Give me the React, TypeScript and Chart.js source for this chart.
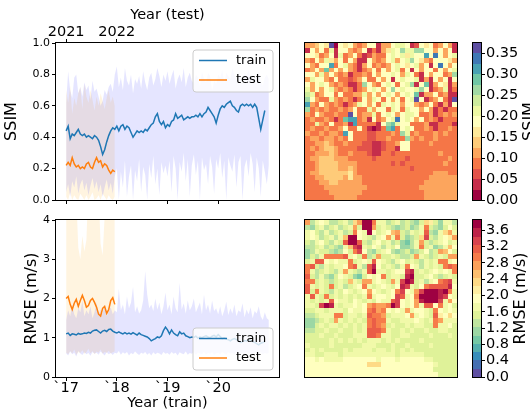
import React, { useEffect, useRef } from "react";
import { Chart, registerables } from "chart.js";

Chart.register(...registerables);
Chart.defaults.font.family = "'DejaVu Sans', sans-serif";
Chart.defaults.color = "#000";

// ---------------- data ----------------
const START_YEAR = 2017;
const STEP_YEARS = 0.04;
const X_MIN = 2016.8;
const X_MAX = 2021.2;

const trainYearTicks = [2017, 2018, 2019, 2020];
const trainYearLabels = ["`17", "`18", "`19", "`20"];
const testYearTicks = [2017, 2018];
const testYearLabels = ["2021", "2022"];
const ssimTicks = [0, 0.2, 0.4, 0.6, 0.8, 1.0];
const rmseTicks = [0, 1, 2, 3, 4];
const ssimCbTicks = [0, 0.05, 0.1, 0.15, 0.2, 0.25, 0.3, 0.35];
const rmseCbTicks = [0, 0.4, 0.8, 1.2, 1.6, 2.0, 2.4, 2.8, 3.2, 3.6];
const seriesLabels = ["train", "test"];

const ssimTrain = [
  0.44, 0.47, 0.39, 0.42, 0.41, 0.43, 0.45, 0.42, 0.41, 0.42,
  0.40, 0.41, 0.40, 0.39, 0.41, 0.40, 0.38, 0.34, 0.29, 0.32,
  0.37, 0.41, 0.44, 0.46, 0.45, 0.47, 0.44, 0.47, 0.48, 0.45,
  0.47, 0.46, 0.43, 0.40, 0.42, 0.44, 0.43, 0.44, 0.43, 0.45,
  0.44, 0.46, 0.48, 0.49, 0.53, 0.55, 0.50, 0.48, 0.50, 0.46,
  0.48, 0.47, 0.50, 0.51, 0.55, 0.52, 0.53, 0.54, 0.51, 0.52,
  0.53, 0.52, 0.53, 0.53, 0.54, 0.53, 0.55, 0.53, 0.55, 0.56,
  0.59, 0.57, 0.55, 0.53, 0.49, 0.54, 0.58, 0.60, 0.59, 0.61,
  0.62, 0.63, 0.60, 0.59, 0.57, 0.56, 0.60, 0.61, 0.60, 0.61,
  0.60, 0.61, 0.59, 0.61, 0.59, 0.52, 0.45, 0.51, 0.57,
];
const ssimTest = [
  0.22, 0.24, 0.22, 0.27, 0.23, 0.21, 0.22, 0.20, 0.21, 0.20,
  0.23, 0.24, 0.21, 0.20, 0.24, 0.27, 0.24, 0.25, 0.21, 0.23,
  0.22, 0.19, 0.17, 0.19, 0.18,
];
const ssimTrainHi = [
  0.62, 0.82, 0.70, 0.65, 0.78, 0.80, 0.68, 0.72, 0.66, 0.75, 0.70, 0.73, 0.64, 0.76, 0.69, 0.71, 0.66, 0.60, 0.63, 0.70, 0.67, 0.72, 0.74, 0.69, 0.80,
  0.85, 0.72, 0.78, 0.70, 0.84, 0.76, 0.73, 0.80, 0.68, 0.77, 0.74, 0.79, 0.71, 0.82, 0.75, 0.70, 0.78, 0.81, 0.73, 0.77, 0.84, 0.79, 0.72, 0.80, 0.76,
  0.82, 0.74, 0.79, 0.83, 0.71, 0.77, 0.80, 0.75, 0.84, 0.72, 0.78, 0.81, 0.76, 0.74, 0.80, 0.78, 0.73, 0.82, 0.77, 0.75, 0.81, 0.79, 0.70, 0.76, 0.74,
  0.80, 0.78, 0.83, 0.75, 0.81, 0.79, 0.77, 0.84, 0.80, 0.76, 0.82, 0.78, 0.74, 0.81, 0.79, 0.83, 0.77, 0.80, 0.75, 0.79, 0.82, 0.76, 0.73, 0.78, 0.80, 0.77,
];
const ssimTrainLo = [
  0.05, 0.10, 0.02, 0.12, 0.08, 0.15, 0.04, 0.10, 0.13, 0.06, 0.11, 0.03, 0.09, 0.14, 0.07, 0.12, 0.05, 0.10, 0.02, 0.08, 0.13, 0.06, 0.11, 0.04, 0.15,
  0.20, 0.00, 0.18, 0.08, 0.25, 0.02, 0.15, 0.22, 0.00, 0.19, 0.12, 0.26, 0.05, 0.21, 0.16, 0.00, 0.23, 0.14, 0.28, 0.10, 0.20, 0.03, 0.24, 0.17, 0.22,
  0.15, 0.25, 0.05, 0.28, 0.20, 0.00, 0.24, 0.18, 0.30, 0.12, 0.26, 0.02, 0.22, 0.29, 0.16, 0.25, 0.00, 0.27, 0.19, 0.23, 0.10, 0.28, 0.21, 0.04, 0.26,
  0.20, 0.30, 0.14, 0.25, 0.00, 0.27, 0.22, 0.18, 0.29, 0.08, 0.24, 0.28, 0.00, 0.21, 0.26, 0.15, 0.30, 0.23, 0.05, 0.27, 0.20, 0.02, 0.25, 0.18, 0.10, 0.22,
];
const ssimTestHi = [
  0.70, 0.62, 0.73, 0.55, 0.65, 0.60, 0.68, 0.72, 0.58, 0.74, 0.66, 0.62, 0.70,
  0.64, 0.57, 0.66, 0.60, 0.68, 0.63, 0.58, 0.65, 0.70, 0.62, 0.66, 0.60,
];
const ssimTestLo = [
  0.02, 0.00, 0.05, 0.00, 0.03, 0.01, 0.00, 0.04, 0.02, 0.00, 0.03, 0.00, 0.02,
  0.05, 0.00, 0.01, 0.03, 0.00, 0.04, 0.02, 0.00, 0.03, 0.01, 0.00, 0.02,
];

const rmseTrain = [
  1.10, 1.12, 1.06, 1.10, 1.09, 1.07, 1.11, 1.09, 1.10, 1.12,
  1.11, 1.14, 1.12, 1.17, 1.19, 1.20, 1.16, 1.12, 1.17, 1.19,
  1.16, 1.21, 1.22, 1.17, 1.14, 1.12, 1.15, 1.12, 1.10, 1.13,
  1.10, 1.12, 1.09, 1.13, 1.10, 1.07, 1.12, 1.08, 1.06, 1.04,
  1.02, 0.98, 0.92, 0.95, 0.98, 1.02, 1.00, 1.05, 1.18, 1.27,
  1.20, 1.10, 1.20, 1.12, 1.08, 1.05, 1.15, 1.10, 1.12, 1.05,
  1.03, 1.00, 1.02, 1.01, 1.04, 0.99, 1.02, 1.00, 1.03, 1.05,
  1.02, 1.00, 1.04, 1.06, 1.02, 1.08, 1.03, 0.98, 1.00, 0.97,
  0.95, 0.92, 0.96, 0.98, 0.95, 0.92, 0.88, 0.90, 0.93, 0.92,
  0.95, 0.93, 0.90, 0.88, 0.85, 0.82, 0.86, 0.88, 0.90,
];
const rmseTest = [
  2.00, 2.05, 1.85, 1.72, 1.88, 1.98, 1.80, 1.95, 2.08, 1.95,
  1.78, 1.82, 1.95, 2.00, 1.90, 1.78, 1.60, 1.55, 1.75, 1.80,
  1.62, 1.72, 1.95, 2.02, 1.85,
];
const rmseTrainHi = [
  1.45, 1.70, 1.55, 1.85, 1.60, 1.50, 1.75, 1.65, 1.95, 1.55, 1.70, 1.60, 1.80, 1.50, 1.65, 1.90, 1.58, 1.72, 1.62, 1.85, 1.55, 1.68, 1.78, 1.60, 1.70,
  1.65, 2.25, 1.70, 1.85, 1.60, 2.05, 1.75, 1.90, 2.30, 1.65, 1.80, 1.62, 1.70, 1.95, 2.70, 2.10, 1.75, 1.85, 1.68, 2.00, 1.72, 1.90, 1.60, 1.80, 2.15,
  1.70, 1.85, 1.60, 2.05, 1.75, 1.65, 2.40, 1.72, 1.88, 1.62, 1.95, 1.70, 1.80, 2.00, 1.65, 1.78, 1.90, 1.60, 2.10, 1.70, 1.85, 1.62, 1.95, 1.68, 1.75,
  1.60, 1.80, 1.55, 1.70, 1.92, 1.58, 1.75, 1.62, 1.85, 1.55, 1.70, 1.65, 1.88, 1.52, 1.72, 1.60, 1.78, 1.50, 1.68, 1.62, 1.80, 1.55, 1.45, 1.65, 1.50, 1.45,
];
const rmseTrainLo = [
  0.60, 0.55, 0.65, 0.58, 0.62, 0.52, 0.66, 0.60, 0.56, 0.63, 0.58, 0.61, 0.54, 0.64, 0.59, 0.62, 0.57, 0.65, 0.60, 0.55, 0.63, 0.58, 0.61, 0.56, 0.62,
  0.60, 0.66, 0.57, 0.63, 0.59, 0.64, 0.55, 0.61, 0.58, 0.65, 0.60, 0.56, 0.62, 0.59, 0.64, 0.57, 0.61, 0.55, 0.63, 0.58, 0.62, 0.60, 0.56, 0.64, 0.59,
  0.61, 0.57, 0.64, 0.59, 0.62, 0.55, 0.63, 0.60, 0.58, 0.65, 0.57, 0.61, 0.59, 0.63, 0.56, 0.62, 0.60, 0.58, 0.64, 0.57, 0.61, 0.59, 0.63, 0.56, 0.60,
  0.62, 0.58, 0.64, 0.60, 0.57, 0.63, 0.59, 0.61, 0.56, 0.64, 0.60, 0.58, 0.62, 0.57, 0.63, 0.59, 0.61, 0.55, 0.62, 0.60, 0.58, 0.63, 0.57, 0.61, 0.59, 0.62,
];
const rmseTestHi = [
  4.8, 5.0, 4.3, 4.5, 4.2, 4.6, 3.3, 3.0, 3.6, 3.2, 3.5, 4.9, 4.4,
  5.0, 4.5, 4.8, 4.7, 3.4, 3.1, 4.1, 5.0, 4.8, 4.3, 5.0, 4.6,
];
const rmseTestLo = [
  0.62, 0.58, 0.66, 0.60, 0.70, 0.57, 0.64, 0.61, 0.68, 0.59, 0.63, 0.72, 0.60,
  0.66, 0.58, 0.65, 0.62, 0.70, 0.59, 0.64, 0.61, 0.67, 0.60, 0.63, 0.65,
];

// heat-map cells: each character is a colour-band index (base 36)
const ssimVmax = 0.375;
const ssimBands = 15;
const ssimMapRows = [
  "44576e07 67434771 44788712 76734741",
  "17473817 74347131 4687a88a a7747471",
  "77634718 34731243 37878687 7c7d7478",
  "43748647 37411743 478478a7 64377764",
  "74377c37 84314734 34787678 4717d747",
  "3474b474 74313473 74783717 47737478",
  "77484743 41334374 77874873 1747734a",
  "48774373 32347337 47178778 14174717",
  "74787434 3113a743 787378a1 7b147614",
  "84747843 43134787 47a78778 a7134813",
  "98347737 33448474 7874787b 14473411",
  "a7433843 43137487 3747378e 7134731e",
  "c4374343 13487473 87874774 34731417",
  "a3434334 34733847 73873877 47413133",
  "43743343 3e734483 78747887 33413434",
  "34334313 bcc34173 478d7874 73431333",
  "33843733 41c33331 7ab87733 34113331",
  "34334334 73373101 3bc37873 34313343",
  "43343443 c7333223 3343a834 33343433",
  "34434434 37333223 34333a43 43343333",
  "33445433 43332211 23347733 33433333",
  "34345543 33322211 23317733 33333333",
  "33444543 34333211 33233333 33334333",
  "34455544 43333323 33333233 33333343",
  "33455554 44433333 33232333 33333433",
  "33455554 45433333 33333323 33333333",
  "34455555 56433333 33333333 33344433",
  "33445555 46443333 33333333 33444444",
  "33344554 44443333 33333333 34444444",
  "33334444 44444333 33333333 44444444",
  "33333444 44443333 33333333 34444444",
  "33333344 44433333 33333333 34444444",
];

const rmseVmax = 3.85;
const rmseBands = 19;
const rmseMapRows = [
  "d6898667 86bdiie8 86786765 7ba75886",
  "65786786 78d7iid7 87656756 8e765797",
  "89768678 67e98i97 89cd7687 8f658bd8",
  "89867868 cii98768 9d8e7567 bg7689ad",
  "76897687 fiif7689 78675468 d7678978",
  "66786765 8cgh8798 68795568 e78568c9",
  "56877656 97eg9657 89656756 7967dc97",
  "5768eeee f897e67d 7787667d 876787dd",
  "78ff9898 8e7898f9 87689787 6878ee89",
  "ef768788 9ef86fh9 78768e98 68787efe",
  "e8678768 d8768fi8 87899gh7 8789898e",
  "f7686579 87547989 e7887hi7 78976787",
  "ee787678 7c87dd89 87d8gih7 8689efg8",
  "f8787e78 6789e878 9879hg87 9effffh9",
  "f7e87687 98789d98 789eg98d giiihie8",
  "8f87e787 87878e89 989gf89e iiiihg98",
  "87878f98 87987879 88fg989d hiiig8d9",
  "887gih87 88989ded deig989d 8ff9e897",
  "77887888 79889efd e9898d89 987e9898",
  "667888ee 78878fee d78889d8 987fa9b9",
  "556787d8 78787efe e8778889 878ed888",
  "55787887 87878efe d7877878 877e8897",
  "66778778 77878fff e8778787 78778877",
  "77787787 77888ffe 88778877 77877787",
  "77777878 78787888 78787777 87777777",
  "87777877 77778887 77877877 77877777",
  "78787777 87888878 87878787 77777777",
  "88778887 88888888 88878888 87777777",
  "99898888 99999998 99989999 98877777",
  "99999999 99999bbb 99999999 99987777",
  "99999999 99999999 99999999 99977777",
  "99999999 99999999 99999999 99997777",
];

// ---------------- helpers ----------------
const SPECTRAL = [
  "#9e0142", "#d53e4f", "#f46d43", "#fdae61", "#fee08b", "#ffffbf",
  "#e6f598", "#abdda4", "#66c2a5", "#3288bd", "#5e4fa2",
];
function hexToRgb(h: string) {
  return [1, 3, 5].map((i) => parseInt(h.slice(i, i + 2), 16));
}
function spectral(t: number) {
  const tt = Math.max(0, Math.min(1, t));
  const p = tt * (SPECTRAL.length - 1);
  const i = Math.min(SPECTRAL.length - 2, Math.floor(p));
  const f = p - i;
  const a = hexToRgb(SPECTRAL[i]);
  const b = hexToRgb(SPECTRAL[i + 1]);
  const c = a.map((v, k) => Math.round(v + (b[k] - v) * f));
  return `rgb(${c[0]},${c[1]},${c[2]})`;
}
function bandColor(band: number, n: number, reversed: boolean) {
  const t = band / (n - 1);
  return spectral(reversed ? 1 - t : t);
}
function parseGrid(rows: string[], vmax: number, n: number) {
  return rows.map((r) =>
    r.replace(/ /g, "").split("").map((ch) => ((parseInt(ch, 36) + 0.5) * vmax) / n)
  );
}
const pts = (arr: number[]) => arr.map((y, i) => ({ x: START_YEAR + i * STEP_YEARS, y }));
const fixedTicks = (vals: number[]) => (s: any) => {
  s.ticks = vals.map((v) => ({ value: v }));
};

const framePlugin = {
  id: "mplFrame",
  afterDraw(chart: any) {
    const { ctx, chartArea: a } = chart;
    ctx.save();
    ctx.strokeStyle = "#000";
    ctx.lineWidth = 1;
    const l = Math.round(a.left) - 0.5;
    const t = Math.round(a.top) - 0.5;
    const r = Math.round(a.right) + 0.5;
    const b = Math.round(a.bottom) + 0.5;
    ctx.strokeRect(l, t, r - l, b - t);
    ctx.restore();
  },
};

function makeLegendPlugin(corner: "top" | "bottom", colors: string[]) {
  return {
    id: "mplLegend",
    afterDatasetsDraw(chart: any) {
      const { ctx, chartArea: a } = chart;
      const w = 80;
      const h = 42;
      const x = a.right - 6 - w;
      const y = corner === "top" ? a.top + 7 : a.bottom - 7 - h;
      ctx.save();
      ctx.beginPath();
      const rad = 3;
      ctx.moveTo(x + rad, y);
      ctx.lineTo(x + w - rad, y);
      ctx.quadraticCurveTo(x + w, y, x + w, y + rad);
      ctx.lineTo(x + w, y + h - rad);
      ctx.quadraticCurveTo(x + w, y + h, x + w - rad, y + h);
      ctx.lineTo(x + rad, y + h);
      ctx.quadraticCurveTo(x, y + h, x, y + h - rad);
      ctx.lineTo(x, y + rad);
      ctx.quadraticCurveTo(x, y, x + rad, y);
      ctx.closePath();
      ctx.fillStyle = "rgba(255,255,255,0.8)";
      ctx.fill();
      ctx.strokeStyle = "#cccccc";
      ctx.lineWidth = 1;
      ctx.stroke();
      ctx.font = "13px 'DejaVu Sans'";
      ctx.textBaseline = "middle";
      ctx.textAlign = "left";
      seriesLabels.forEach((lab, k) => {
        const cy = y + 10.5 + k * 19.5;
        ctx.beginPath();
        ctx.strokeStyle = colors[k];
        ctx.lineWidth = 1.5;
        ctx.moveTo(x + 6, cy);
        ctx.lineTo(x + 34, cy);
        ctx.stroke();
        ctx.fillStyle = "#000";
        ctx.fillText(lab, x + 43, cy);
      });
      ctx.restore();
    },
  };
}

const TRAIN_COLOR = "#1f77b4";
const TEST_COLOR = "#ff7f0e";

function lineConfig(p: any) {
  const band = (data: number[], fill: any, bg: string) => ({
    data: pts(data),
    borderWidth: 0,
    borderColor: "rgba(0,0,0,0)",
    pointRadius: 0,
    backgroundColor: bg,
    fill,
  });
  const gridOpts = {
    drawOnChartArea: false,
    drawTicks: true,
    tickLength: 4,
    tickColor: "#000",
    tickWidth: 1,
  };
  const scales: any = {
    y: {
      type: "linear",
      position: "left",
      min: p.yMin,
      max: p.yMax,
      afterBuildTicks: fixedTicks(p.yTicks),
      ticks: { callback: p.yFmt, font: { size: 11 }, padding: 2, color: "#000" },
      grid: gridOpts,
      border: { display: false },
      title: {
        display: true,
        text: p.yTitle,
        font: { size: 16 },
        color: "#000",
        padding: { top: p.yTitlePad, bottom: 0 },
      },
      afterFit: (s: any) => {
        s.width = 56;
      },
    },
    x: {
      type: "linear",
      position: "bottom",
      min: X_MIN,
      max: X_MAX,
      afterBuildTicks: fixedTicks(trainYearTicks),
      ticks: {
        callback: (_v: any, i: number) => (p.showBottomLabels ? trainYearLabels[i] : ""),
        font: { size: 14.5 },
        padding: -1,
        maxRotation: 0,
        autoSkip: false,
        color: "#000",
      },
      grid: gridOpts,
      border: { display: false },
      title: {
        display: p.showBottomLabels,
        text: "Year (train)",
        font: { size: 14.5 },
        color: "#000",
        padding: { top: 0, bottom: 1 },
      },
      afterFit: (s: any) => {
        s.height = p.bottomH;
      },
    },
  };
  if (p.topAxis) {
    scales.x2 = {
      type: "linear",
      position: "top",
      min: X_MIN,
      max: X_MAX,
      afterBuildTicks: fixedTicks(testYearTicks),
      ticks: {
        callback: (_v: any, i: number) => testYearLabels[i],
        font: { size: 14.5 },
        padding: -2,
        maxRotation: 0,
        autoSkip: false,
        color: "#000",
      },
      grid: gridOpts,
      border: { display: false },
      title: {
        display: true,
        text: "Year (test)",
        font: { size: 14.5 },
        color: "#000",
        padding: { top: 7, bottom: 0 },
      },
      afterFit: (s: any) => {
        s.height = 43;
      },
    };
  }
  return {
    type: "line",
    data: {
      datasets: [
        { label: "train", data: pts(p.train), borderColor: TRAIN_COLOR, borderWidth: 1.5, pointRadius: 0, fill: false },
        { label: "test", data: pts(p.test), borderColor: TEST_COLOR, borderWidth: 1.5, pointRadius: 0, fill: false },
        band(p.trainHi, "+1", "rgba(0,0,255,0.1)"),
        band(p.trainLo, false, "rgba(0,0,0,0)"),
        band(p.testHi, "+1", "rgba(255,165,0,0.12)"),
        band(p.testLo, false, "rgba(0,0,0,0)"),
      ],
    },
    options: {
      responsive: false,
      animation: false,
      events: [],
      layout: { padding: p.padding },
      plugins: { legend: { display: false }, tooltip: { enabled: false } },
      elements: { line: { tension: 0 } },
      scales,
    },
    plugins: [makeLegendPlugin(p.legendCorner, [TRAIN_COLOR, TEST_COLOR]), framePlugin],
  };
}

function heatConfig(rows: string[], vmax: number, n: number, reversed: boolean, padding: any) {
  const values = parseGrid(rows, vmax, n);
  const nRows = values.length;
  const nCols = values[0].length;
  const heatPlugin = {
    id: "heatCells",
    afterDatasetsDraw(chart: any) {
      const { ctx } = chart;
      const xs = chart.scales.x;
      const ys = chart.scales.y;
      ctx.save();
      values.forEach((row, r) => {
        row.forEach((v, c) => {
          const band = Math.min(n - 1, Math.floor((v / vmax) * n));
          const x0 = Math.round(xs.getPixelForValue(c));
          const x1 = Math.round(xs.getPixelForValue(c + 1));
          const y0 = Math.round(ys.getPixelForValue(r));
          const y1 = Math.round(ys.getPixelForValue(r + 1));
          ctx.fillStyle = bandColor(band, n, reversed);
          ctx.fillRect(x0, Math.min(y0, y1), x1 - x0, Math.abs(y1 - y0));
        });
      });
      ctx.restore();
    },
  };
  return {
    type: "scatter",
    data: { datasets: [] },
    options: {
      responsive: false,
      animation: false,
      events: [],
      layout: { padding },
      plugins: { legend: { display: false }, tooltip: { enabled: false } },
      scales: {
        x: { type: "linear", min: 0, max: nCols, display: false },
        y: { type: "linear", min: 0, max: nRows, reverse: true, display: false },
      },
    },
    plugins: [heatPlugin, framePlugin],
  };
}

function colorbarConfig(vmax: number, n: number, reversed: boolean, ticks: number[], digits: number, title: string, padding: any) {
  const fontSize = 14.5;
  const cbPlugin = {
    id: "cbBands",
    afterDatasetsDraw(chart: any) {
      const { ctx, chartArea: a } = chart;
      const ys = chart.scales.y;
      ctx.save();
      for (let k = 0; k < n; k++) {
        const yA = Math.round(ys.getPixelForValue((k * vmax) / n));
        const yB = Math.round(ys.getPixelForValue(((k + 1) * vmax) / n));
        ctx.fillStyle = bandColor(k, n, reversed);
        ctx.fillRect(a.left, yB, a.right - a.left, yA - yB);
      }
      ctx.restore();
    },
    afterDraw(chart: any) {
      const { ctx, chartArea: a } = chart;
      ctx.save();
      ctx.font = `${fontSize}px 'DejaVu Sans'`;
      let maxW = 0;
      ticks.forEach((t) => {
        maxW = Math.max(maxW, ctx.measureText(t.toFixed(digits)).width);
      });
      const cx = a.right + 5 + maxW + 12;
      const cy = (a.top + a.bottom) / 2;
      ctx.translate(cx, cy);
      ctx.rotate(-Math.PI / 2);
      ctx.font = "16px 'DejaVu Sans'";
      ctx.fillStyle = "#000";
      ctx.textAlign = "center";
      ctx.textBaseline = "middle";
      ctx.fillText(title, 0, 0);
      ctx.restore();
    },
  };
  return {
    type: "scatter",
    data: { datasets: [] },
    options: {
      responsive: false,
      animation: false,
      events: [],
      layout: { padding },
      plugins: { legend: { display: false }, tooltip: { enabled: false } },
      scales: {
        x: { type: "linear", min: 0, max: 1, display: false },
        y: {
          type: "linear",
          position: "right",
          min: 0,
          max: vmax,
          afterBuildTicks: fixedTicks(ticks),
          ticks: {
            callback: (v: number) => v.toFixed(digits),
            font: { size: fontSize },
            padding: 1,
            color: "#000",
            autoSkip: false,
          },
          grid: { drawOnChartArea: false, drawTicks: true, tickLength: 4, tickColor: "#000" },
          border: { display: false },
          afterFit: (s: any) => {
            s.width = 49;
          },
        },
      },
    },
    plugins: [cbPlugin, framePlugin],
  };
}

function ChartCanvas(props: { make: () => any; left: number; top: number; width: number; height: number }) {
  const ref = useRef<HTMLCanvasElement | null>(null);
  useEffect(() => {
    if (!ref.current) return;
    const chart = new Chart(ref.current, props.make());
    return () => chart.destroy();
  }, []);
  return (
    <canvas
      ref={ref}
      width={props.width}
      height={props.height}
      style={{ position: "absolute", left: props.left, top: props.top, width: props.width, height: props.height }}
    />
  );
}

export default function App() {
  return (
    <div style={{ position: "fixed", left: 0, top: 0, width: 530, height: 413, background: "#fff", overflow: "hidden" }}>
      <ChartCanvas
        left={0}
        top={0}
        width={290}
        height={215}
        make={() =>
          lineConfig({
            train: ssimTrain, test: ssimTest, trainHi: ssimTrainHi, trainLo: ssimTrainLo,
            testHi: ssimTestHi, testLo: ssimTestLo,
            yMin: 0, yMax: 1, yTicks: ssimTicks, yFmt: (v: number) => v.toFixed(1),
            yTitle: "SSIM", yTitlePad: 2, topAxis: true, showBottomLabels: false, bottomH: 15,
            padding: { left: 0, right: 11, top: 0, bottom: 0 }, legendCorner: "top",
          })
        }
      />
      <ChartCanvas
        left={0}
        top={210}
        width={290}
        height={203}
        make={() =>
          lineConfig({
            train: rmseTrain, test: rmseTest, trainHi: rmseTrainHi, trainLo: rmseTrainLo,
            testHi: rmseTestHi, testLo: rmseTestLo,
            yMin: 0, yMax: 4, yTicks: rmseTicks, yFmt: (v: number) => String(v),
            yTitle: "RMSE (m/s)", yTitlePad: 22, topAxis: false, showBottomLabels: true, bottomH: 36,
            padding: { left: 0, right: 11, top: 10, bottom: 0 }, legendCorner: "bottom",
          })
        }
      />
      <ChartCanvas
        left={295}
        top={0}
        width={170}
        height={215}
        make={() => heatConfig(ssimMapRows, ssimVmax, ssimBands, false, { left: 10, right: 8, top: 43, bottom: 15 })}
      />
      <ChartCanvas
        left={465}
        top={0}
        width={65}
        height={215}
        make={() => colorbarConfig(ssimVmax, ssimBands, false, ssimCbTicks, 2, "SSIM", { left: 8, right: 0, top: 43, bottom: 15 })}
      />
      <ChartCanvas
        left={295}
        top={210}
        width={170}
        height={203}
        make={() => heatConfig(rmseMapRows, rmseVmax, rmseBands, true, { left: 10, right: 8, top: 10, bottom: 36 })}
      />
      <ChartCanvas
        left={465}
        top={210}
        width={65}
        height={203}
        make={() => colorbarConfig(rmseVmax, rmseBands, true, rmseCbTicks, 1, "RMSE (m/s)", { left: 8, right: 0, top: 10, bottom: 36 })}
      />
    </div>
  );
}
